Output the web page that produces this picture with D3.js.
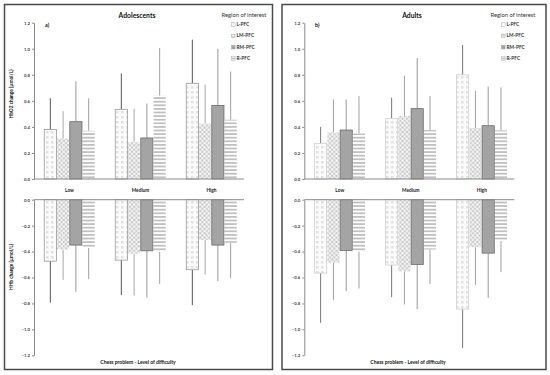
<!DOCTYPE html>
<html><head><meta charset="utf-8">
<script src="https://cdn.jsdelivr.net/npm/d3@7"></script>
<style>body{margin:0;background:#fff;} text{font-family:Lato,"Open Sans",sans-serif;}</style>
</head><body>
<script>
const categories = ["Low", "Medium", "High"];
const regions = ["L-PFC", "LM-PFC", "RM-PFC", "R-PFC"];
const yTicksTop = [0, 0.2, 0.4, 0.6, 0.8, 1.0, 1.2];
const yTicksBottom = [0, -0.2, -0.4, -0.6, -0.8, -1.0, -1.2];

// Adolescents: means per category (rows) x region (cols), and SD
const adolHbO2 = [[0.38, 0.31, 0.44, 0.37], [0.535, 0.285, 0.315, 0.64], [0.735, 0.425, 0.565, 0.455]];
const adolHbO2Sd = [[0.24, 0.21, 0.31, 0.25], [0.275, 0.255, 0.265, 0.365], [0.335, 0.30, 0.435, 0.37]];
const adolHHb = [[-0.474, -0.384, -0.35, -0.371], [-0.466, -0.417, -0.394, -0.404], [-0.54, -0.311, -0.35, -0.332]];
const adolHHbSd = [[0.32, 0.234, 0.36, 0.242], [0.27, 0.322, 0.36, 0.245], [0.273, 0.266, 0.278, 0.273]];

// Adults
const adultHbO2 = [[0.274, 0.358, 0.376, 0.35], [0.463, 0.484, 0.54, 0.376], [0.80, 0.391, 0.409, 0.374]];
const adultHbO2Sd = [[0.126, 0.252, 0.234, 0.287], [0.161, 0.309, 0.389, 0.261], [0.229, 0.287, 0.30, 0.33]];
const adultHHb = [[-0.566, -0.486, -0.391, -0.399], [-0.504, -0.553, -0.499, -0.384], [-0.844, -0.366, -0.412, -0.319]];
const adultHHbSd = [[0.384, 0.286, 0.314, 0.286], [0.248, 0.255, 0.345, 0.265], [0.299, 0.29, 0.345, 0.24]];

const svg = d3.select("body").append("svg").attr("width", 550).attr("height", 375);
const defs = svg.append("defs");

// patterns
let p = defs.append("pattern").attr("id", "patL").attr("patternUnits", "userSpaceOnUse").attr("width", 5).attr("height", 5);
p.append("rect").attr("width", 5).attr("height", 5).attr("fill", "#fbfbfb");
p.append("rect").attr("x", 1).attr("y", 1).attr("width", 2.5).attr("height", 2.5).attr("fill", "#e2e2e2");

p = defs.append("pattern").attr("id", "patLM").attr("patternUnits", "userSpaceOnUse").attr("width", 4.4).attr("height", 4.4);
p.append("rect").attr("width", 4.4).attr("height", 4.4).attr("fill", "#bcbcbc");
p.append("circle").attr("cx", 2.2).attr("cy", 2.2).attr("r", 1.5).attr("fill", "#f2f2f2");
p.append("circle").attr("cx", 0).attr("cy", 0).attr("r", 1.5).attr("fill", "#f2f2f2");
p.append("circle").attr("cx", 4.4).attr("cy", 0).attr("r", 1.5).attr("fill", "#f2f2f2");
p.append("circle").attr("cx", 0).attr("cy", 4.4).attr("r", 1.5).attr("fill", "#f2f2f2");
p.append("circle").attr("cx", 4.4).attr("cy", 4.4).attr("r", 1.5).attr("fill", "#f2f2f2");

p = defs.append("pattern").attr("id", "patR").attr("patternUnits", "userSpaceOnUse").attr("width", 4).attr("height", 3.6);
p.append("rect").attr("width", 4).attr("height", 3.6).attr("fill", "#ffffff");
p.append("rect").attr("width", 4).attr("height", 1.8).attr("fill", "#c0c0c0");

const fills = ["url(#patL)", "url(#patLM)", "#a4a4a4", "url(#patR)"];
const strokes = ["#9a9a9a", "none", "#6a6a6a", "none"];

const yTop = d3.scaleLinear().domain([0, 1.2]).range([179, 22.7]);
const yBot = d3.scaleLinear().domain([-1.2, 0]).range([355.3, 199.7]);

function drawPanel(cfg) {
  const g = svg.append("g");
  g.append("rect").attr("x", cfg.bx).attr("y", 4.5).attr("width", cfg.bw).attr("height", 365)
    .attr("fill", "none").attr("stroke", "#4a4a4a").attr("stroke-width", 1.5);

  const x = d3.scaleBand().domain(categories).range([cfg.ax, cfg.ax + 213]).paddingInner(0.28).paddingOuter(0.14);
  const xs = d3.scaleBand().domain(regions).range([0, x.bandwidth()]);

  function chart(y, means, sds, ticks, positive) {
    const cg = g.append("g");
    categories.forEach((c, ci) => {
      regions.forEach((r, ri) => {
        const m = means[ci][ri], s = sds[ci][ri];
        const x0 = x(c) + xs(r), w = xs.bandwidth();
        const end = positive ? m + s : m - s;
        cg.append("line").attr("x1", x0 + w / 2).attr("x2", x0 + w / 2)
          .attr("y1", y(m)).attr("y2", y(end))
          .attr("stroke", cfg.errColors[ri]).attr("stroke-width", 1);
        cg.append("rect").attr("x", x0 + 0.3).attr("width", w - 0.6)
          .attr("y", Math.min(y(0), y(m))).attr("height", Math.abs(y(m) - y(0)))
          .attr("fill", fills[ri]).attr("stroke", cfg.strokes[ri]).attr("stroke-width", 0.8);
      });
    });
    cg.append("line").attr("x1", cfg.ax).attr("x2", cfg.ax + 210).attr("y1", y(0)).attr("y2", y(0))
      .attr("stroke", "#8a8a8a").attr("stroke-width", 1);
    const axis = d3.axisLeft(y).tickValues(ticks).tickFormat(d3.format(".1f")).tickSize(2).tickSizeOuter(0).tickPadding(2);
    const ag = cg.append("g").attr("transform", `translate(${cfg.ax},0)`).call(axis);
    ag.select(".domain").attr("stroke", "#8a8a8a").attr("stroke-width", 1);
    ag.selectAll(".tick line").attr("stroke", "#8a8a8a");
    ag.selectAll(".tick text").attr("font-size", 4.3).attr("font-weight", "bold").attr("fill", "#444").style("font-family", "Lato, sans-serif");
  }
  chart(yTop, cfg.hbo2, cfg.hbo2Sd, yTicksTop, true);
  chart(yBot, cfg.hhb, cfg.hhbSd, yTicksBottom, false);

  g.selectAll(".cat").data(categories).enter().append("text")
    .attr("x", d => x(d) + x.bandwidth() / 2).attr("y", 191.5)
    .attr("text-anchor", "middle").attr("font-size", 4.8).attr("font-weight", "bold").attr("fill", "#222").text(d => d);

  g.append("text").attr("x", cfg.titleX).attr("y", 18).attr("text-anchor", "middle")
    .attr("font-size", 6.8).attr("font-weight", "bold").attr("fill", "#111").text(cfg.title);
  g.append("text").attr("x", cfg.letterX).attr("y", 27).attr("font-size", 5.5).attr("font-weight", "bold").attr("fill", "#111").text(cfg.letter);

  g.append("text").attr("x", cfg.xTitleX).attr("y", 363.5).attr("text-anchor", "middle")
    .attr("font-size", 5).attr("font-weight", "bold").attr("fill", "#111").text("Chess problem - Level of difficulty");

  if (cfg.yLabels) {
    g.append("text").attr("transform", "translate(13,94) rotate(-90)").attr("text-anchor", "middle")
      .attr("font-size", 4.8).attr("font-weight", "bold").attr("fill", "#111").text("HbO2 change (µmol/L)");
    g.append("text").attr("transform", "translate(13,267) rotate(-90)").attr("text-anchor", "middle")
      .attr("font-size", 4.8).attr("font-weight", "bold").attr("fill", "#111").text("HHb change (µmol/L)");
  }

  g.append("text").attr("x", cfg.legX).attr("y", 17).attr("text-anchor", "middle")
    .attr("font-size", 5.8).attr("fill", "#333").text("Region of interest");
  regions.forEach((r, i) => {
    const ly = 26 + i * 11.3;
    g.append("rect").attr("x", cfg.legSw).attr("y", ly - 3.2).attr("width", 3.6).attr("height", 3.6)
      .attr("fill", fills[i]).attr("stroke", "#999").attr("stroke-width", 0.4);
    g.append("text").attr("x", cfg.legSw + 5).attr("y", ly).attr("font-size", 4.8).attr("font-weight", "bold")
      .attr("fill", "#333").text(r);
  });
}

drawPanel({
  bx: 4.5, bw: 268, ax: 34, title: "Adolescents", titleX: 137, letter: "a)", letterX: 45,
  xTitleX: 138, yLabels: true, legX: 244, legSw: 231.5,
  hbo2: adolHbO2, hbo2Sd: adolHbO2Sd, hhb: adolHHb, hhbSd: adolHHbSd,
  errColors: ["#555", "#a8a8a8", "#999", "#a0a0a0"], strokes: strokes
});
drawPanel({
  bx: 282, bw: 264, ax: 304.3, title: "Adults", titleX: 412, letter: "b)", letterX: 315,
  xTitleX: 408, yLabels: false, legX: 513, legSw: 501.5,
  hbo2: adultHbO2, hbo2Sd: adultHbO2Sd, hhb: adultHHb, hhbSd: adultHHbSd,
  errColors: ["#777", "#a0a0a0", "#999", "#a0a0a0"], strokes: ["#cfcfcf", "none", "#6a6a6a", "none"]
});
</script>
</body></html>
